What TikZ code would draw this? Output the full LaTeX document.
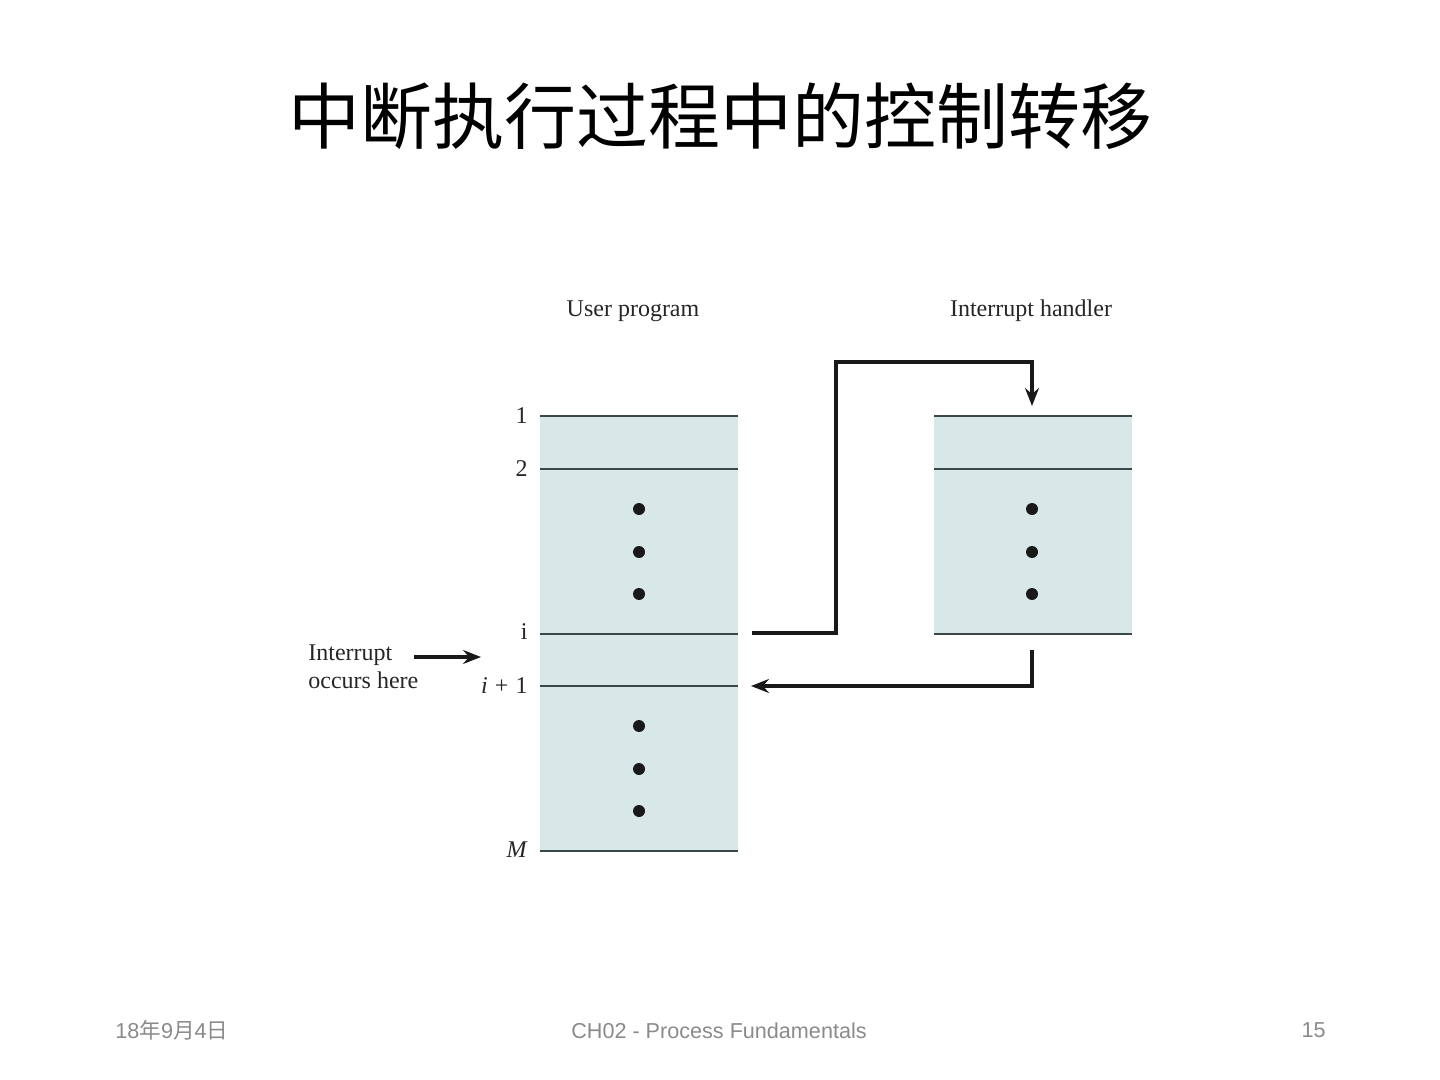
\documentclass[tikz,border=0pt]{standalone}
\usepackage{fontspec}
\setmainfont{Liberation Serif}
\newfontfamily\cjk{Noto Sans CJK SC}
\newfontfamily\footfont{Liberation Sans}
\usetikzlibrary{arrows.meta}
\definecolor{boxfill}{HTML}{D8E8E8}
\definecolor{rulecol}{HTML}{3A4848}
\definecolor{footgray}{HTML}{8A8A8A}
\tikzset{
  lbl/.style={font=\fontsize{12}{14}\selectfont, inner sep=0pt, text=black!85},
  rowline/.style={draw=rulecol, line width=0.8pt},
  flow/.style={draw=black!90, line width=2pt, -{Stealth[length=9pt,width=7pt,inset=3pt]}},
  dotmark/.style={circle, fill=black!90, inner sep=0pt, minimum size=6pt},
  foot/.style={font=\footfont\fontsize{10.8}{12}\selectfont, text=footgray, inner sep=0pt},
}
\begin{document}
\begin{tikzpicture}[x=0.5pt, y=-0.5pt]
\useasboundingbox (0,0) rectangle (1440,1080);
% title
\node[font=\cjk\fontsize{36}{40}\selectfont, inner sep=0pt] (title) at (720,116) {中断执行过程中的控制转移};
% column headers
\node[lbl] (hdrA) at (633,311) {User program};
\node[lbl] (hdrB) at (1031,311) {Interrupt handler};
% left box
\fill[boxfill] (540,416) rectangle (738,851);
\foreach \yy in {416,469,634,686,851} \draw[rowline] (540,\yy) -- (738,\yy);
% right box
\fill[boxfill] (934,416) rectangle (1132,634);
\foreach \yy in {416,469,634} \draw[rowline] (934,\yy) -- (1132,\yy);
% dots
\node[dotmark] (d1) at (639,509) {};
\node[dotmark] (d2) at (639,552) {};
\node[dotmark] (d3) at (639,594) {};
\node[dotmark] (d4) at (639,726) {};
\node[dotmark] (d5) at (639,769) {};
\node[dotmark] (d6) at (639,811) {};
\node[dotmark] (d7) at (1032,509) {};
\node[dotmark] (d8) at (1032,552) {};
\node[dotmark] (d9) at (1032,594) {};
% row labels
\node[lbl, anchor=east] (n1) at (528,416) {1};
\node[lbl, anchor=east] (n2) at (528,469) {2};
\node[lbl, anchor=east] (ni) at (528,632) {i};
\node[lbl, anchor=east] (ni1) at (528,686) {\textit{i}\hspace{0.3em}+\hspace{0.3em}1};
\node[lbl, anchor=east] (nM) at (528,850) {\textit{M}};
% interrupt label
\node[lbl, anchor=west, align=left] (intr) at (308,667) {Interrupt\\occurs here};
% coordinates for connectors
\coordinate (a0) at (752,633);
\coordinate (a1) at (836,633);
\coordinate (a2) at (836,362);
\coordinate (a3) at (1032,362);
\coordinate (a4) at (1032,406);
\coordinate (b0) at (1032,650);
\coordinate (b1) at (1032,686);
\coordinate (b2) at (751,686);
\coordinate (c0) at (414,657);
\coordinate (c1) at (481,657);
\draw[flow, line join=miter] (a0) -- (a1) -- (a2) -- (a3) -- (a4);
\draw[flow, line join=miter] (b0) -- (b1) -- (b2);
\draw[flow] (c0) -- (c1);
% footer
\node[foot, anchor=west] (date) at (115,1030) {18{\cjk 年}9{\cjk 月}4{\cjk 日}};
\node[foot] (chap) at (719,1031) {CH02 - Process Fundamentals};
\node[foot, anchor=east] (page) at (1326,1030) {15};
\end{tikzpicture}
\end{document}
